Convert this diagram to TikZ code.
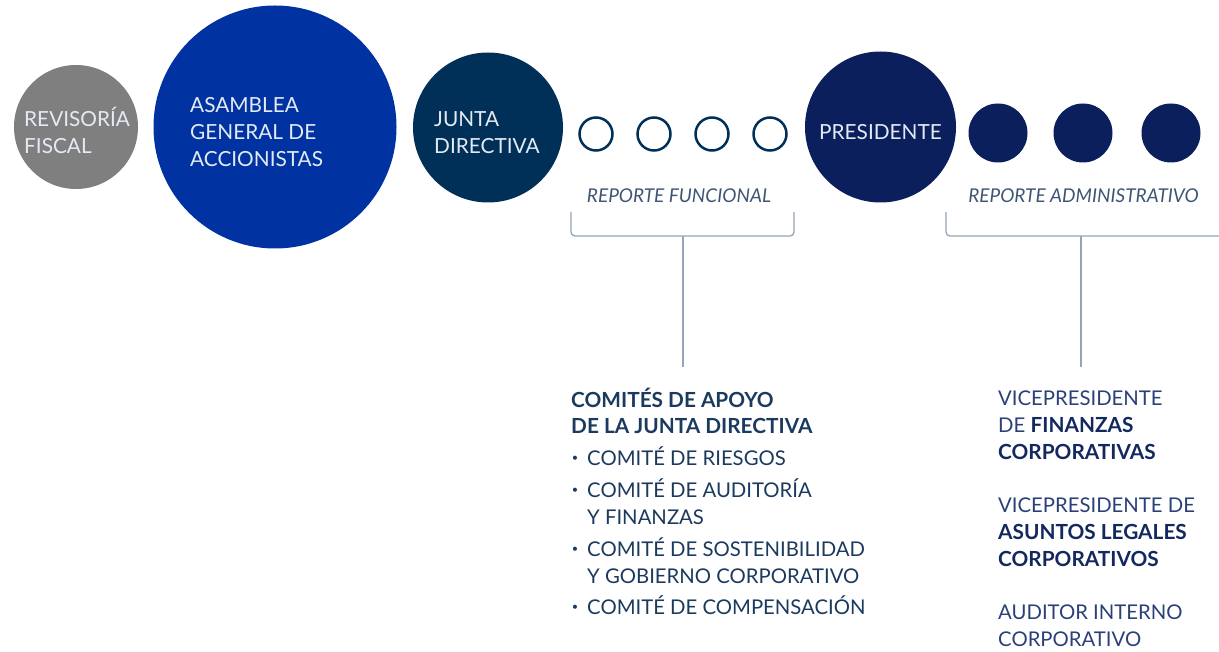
\documentclass[tikz,border=0pt]{standalone}
\usepackage{fontspec}
\setmainfont{Lato}
\definecolor{revgray}{HTML}{7F7F7F}
\definecolor{asblue}{HTML}{0033A1}
\definecolor{juntablue}{HTML}{003057}
\definecolor{presblue}{HTML}{0A1F5C}
\definecolor{circtextc}{HTML}{E4EAF4}
\definecolor{comtext}{HTML}{1B3A5E}
\definecolor{vptext}{HTML}{2B4079}
\definecolor{vpbold}{HTML}{12285E}
\definecolor{reptext}{HTML}{3E5573}
\definecolor{brack}{HTML}{95A4B8}
\tikzset{
  bigcirc/.style={circle, inner sep=0pt},
  smallring/.style={circle, draw=juntablue, line width=2.5pt, minimum size=33pt, inner sep=0pt},
  smalldot/.style={circle, fill=presblue, minimum size=59pt, inner sep=0pt},
  circtext/.style={anchor=base west, inner sep=0pt, text=circtextc, font=\fontsize{20.8}{24}\selectfont},
  reptextst/.style={anchor=base, inner sep=0pt, text=reptext, font=\fontsize{19}{22}\selectfont\itshape},
  comline/.style={anchor=base west, inner sep=0pt, text=comtext, font=\fontsize{20.3}{24}\selectfont},
  comhead/.style={comline, font=\fontsize{20.8}{24}\selectfont\bfseries},
  bulletst/.style={anchor=center, inner sep=0pt, text=comtext, font=\fontsize{11}{12}\selectfont},
  vpline/.style={anchor=base west, inner sep=0pt, text=vptext, font=\fontsize{20.3}{24}\selectfont},
  vphead/.style={vpline, text=vpbold, font=\fontsize{20.8}{24}\selectfont\bfseries},
  bracketline/.style={draw=brack, line width=1.3pt},
}
\begin{document}
\begin{tikzpicture}[x=1pt,y=-1pt]
\useasboundingbox (0,0) rectangle (1219,652);
% big circles
\node[bigcirc, fill=revgray, minimum size=124pt] (rev) at (76,127) {};
\node[bigcirc, fill=asblue, minimum size=243pt] (asam) at (275,127) {};
\node[bigcirc, fill=juntablue, minimum size=150pt] (junta) at (488,127.5) {};
\node[bigcirc, fill=presblue, minimum size=151pt] (pres) at (880.5,127) {};
% texts in circles
\node[circtext] (revt1) at (24,126.5) {REVISORÍA};
\node[circtext] (revt2) at (24,153.5) {FISCAL};
\node[circtext] (ast1) at (190,112.5) {ASAMBLEA};
\node[circtext] (ast2) at (190,139.5) {GENERAL DE};
\node[circtext] (ast3) at (190,166.5) {ACCIONISTAS};
\node[circtext] (jt1) at (434,127) {JUNTA};
\node[circtext] (jt2) at (434,153.5) {DIRECTIVA};
\node[circtext, anchor=base] (prt) at (880.5,139.5) {PRESIDENTE};
% small rings
\node[smallring] (r1) at (596,134) {};
\node[smallring] (r2) at (654,134) {};
\node[smallring] (r3) at (712,134) {};
\node[smallring] (r4) at (770,134) {};
% small dots
\node[smalldot] (d1) at (998,133) {};
\node[smalldot] (d2) at (1083,133) {};
\node[smalldot] (d3) at (1171,133) {};
% report labels
\node[reptextst] (repf) at (679,203) {REPORTE FUNCIONAL};
\node[reptextst] (repa) at (1083.5,203) {REPORTE ADMINISTRATIVO};
% brackets
\coordinate (bfl) at (571,212);
\coordinate (bfr) at (794,212);
\coordinate (bfs) at (683,236);
\coordinate (bfe) at (683,367);
\draw[bracketline, rounded corners=4pt] (bfl) -- (571,236) -- (794,236) -- (bfr);
\draw[bracketline] (bfs) -- (bfe);
\coordinate (bal) at (946,212);
\coordinate (bar) at (1219,236);
\coordinate (bas) at (1081,236);
\coordinate (bae) at (1081,367);
\draw[bracketline, rounded corners=4pt] (bal) -- (946,236) -- (bar);
\draw[bracketline] (bas) -- (bae);
% comites block
\node[comhead] (c1) at (571,407) {COMITÉS DE APOYO};
\node[comhead] (c2) at (571,433) {DE LA JUNTA DIRECTIVA};
\node[bulletst] (b1) at (575,459) {•};
\node[comline] (c3) at (587,465) {COMITÉ DE RIESGOS};
\node[bulletst] (b2) at (575,491) {•};
\node[comline] (c4) at (587,497) {COMITÉ DE AUDITORÍA};
\node[comline] (c5) at (587,524) {Y FINANZAS};
\node[bulletst] (b3) at (575,550) {•};
\node[comline] (c6) at (587,556) {COMITÉ DE SOSTENIBILIDAD};
\node[comline] (c7) at (587,583) {Y GOBIERNO CORPORATIVO};
\node[bulletst] (b4) at (575,608) {•};
\node[comline] (c8) at (587,614) {COMITÉ DE COMPENSACIÓN};
% vp block
\node[vpline] (v1) at (998,406) {VICEPRESIDENTE};
\node[vpline] (v2) at (998,432) {DE \textcolor{vpbold}{\fontsize{20.8}{24}\selectfont\bfseries FINANZAS}};
\node[vphead] (v3) at (998,459) {CORPORATIVAS};
\node[vpline] (v4) at (998,512) {VICEPRESIDENTE DE};
\node[vphead] (v5) at (998,539) {ASUNTOS LEGALES};
\node[vphead] (v6) at (998,566) {CORPORATIVOS};
\node[vpline] (v7) at (998,619) {AUDITOR INTERNO};
\node[vpline] (v8) at (998,646) {CORPORATIVO};
\end{tikzpicture}
\end{document}
